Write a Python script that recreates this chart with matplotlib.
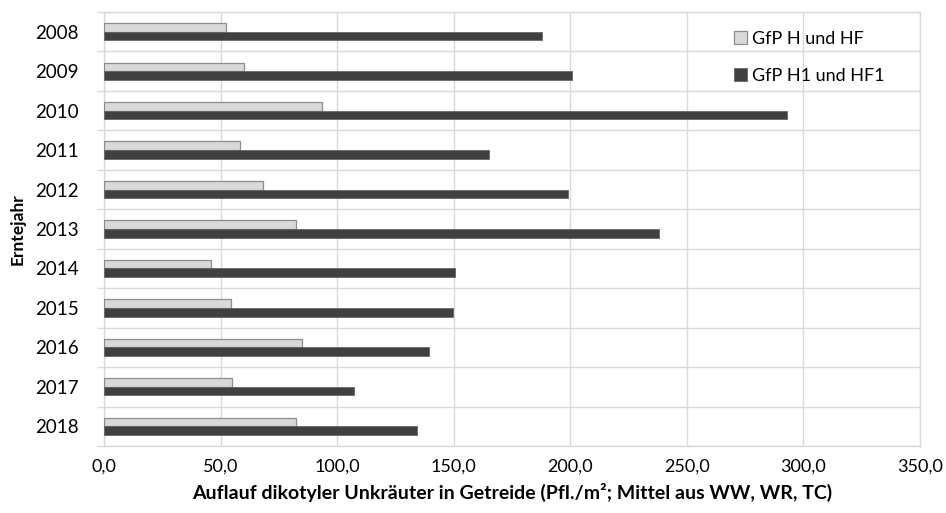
import numpy as np
import matplotlib
matplotlib.use("Agg")
import matplotlib.pyplot as plt
from matplotlib.ticker import FixedLocator, FuncFormatter

plt.rcParams["font.family"] = ["Lato", "DejaVu Sans"]

# ---------------------------------------------------------
# Data
# ---------------------------------------------------------
years = ["2008", "2009", "2010", "2011", "2012", "2013",
         "2014", "2015", "2016", "2017", "2018"]
gfp_h_hf = [52.5, 60.1, 93.3, 58.3, 68.4, 82.2, 45.9, 54.5, 85.1, 54.9, 82.2]
gfp_h1_hf1 = [187.9, 200.8, 293.0, 165.0, 198.9, 238.0, 150.7, 149.7, 139.3, 107.3, 134.4]

label_light = "GfP H und HF"
label_dark = "GfP H1 und HF1"
x_label = "Auflauf dikotyler Unkräuter in Getreide (Pfl./m²; Mittel aus WW, WR, TC)"
y_label = "Erntejahr"

grid_col = "#d9d9d9"

# ---------------------------------------------------------
# Plot
# ---------------------------------------------------------
fig = plt.figure(figsize=(9.46, 5.13), dpi=100)
ax = fig.add_axes([104 / 946, 1 - 446 / 513, 816 / 946, 434 / 513])

pos = np.arange(len(years))
h = 0.22
ax.barh(pos - h / 2, gfp_h_hf, height=h, color="#d9d9d9",
        edgecolor="#8c8c8c", linewidth=0.9, label=label_light, zorder=3)
ax.barh(pos + h / 2, gfp_h1_hf1, height=h, color="#404040",
        edgecolor="#666666", linewidth=0.6, label=label_dark, zorder=3)

ax.set_xlim(0, 350)
ax.set_ylim(len(years) - 0.5, -0.5)

ax.set_xticks(np.arange(0, 351, 50))
ax.xaxis.set_major_formatter(FuncFormatter(lambda v, p: f"{v:.1f}".replace(".", ",")))
ax.set_yticks(pos)
ax.set_yticklabels(years)
ax.yaxis.set_minor_locator(FixedLocator(np.arange(-0.5, len(years), 1)))

ax.tick_params(axis="x", length=0, pad=9, labelsize=13, colors="#000000")
ax.tick_params(axis="y", which="major", length=0, pad=18, labelsize=13.5)
ax.tick_params(axis="y", which="minor", length=5, width=1, color=grid_col)

ax.grid(axis="x", color=grid_col, linewidth=1, zorder=0)
ax.grid(axis="y", which="minor", color=grid_col, linewidth=1, zorder=0)
for s in ax.spines.values():
    s.set_color(grid_col)
    s.set_linewidth(1)

ax.set_xlabel(x_label, fontsize=14, fontweight="bold", labelpad=6)
ax.set_ylabel(y_label, fontsize=12.5, fontweight="bold", labelpad=7)

leg = ax.legend(loc="upper left", bbox_to_anchor=((734 - 104) / 816, (446 - 31) / 434),
                frameon=False, fontsize=13, borderpad=0, borderaxespad=0,
                handlelength=0.7, handleheight=0.7, handletextpad=0.3,
                labelspacing=1.17)

fig.savefig("out.png", dpi=100)
